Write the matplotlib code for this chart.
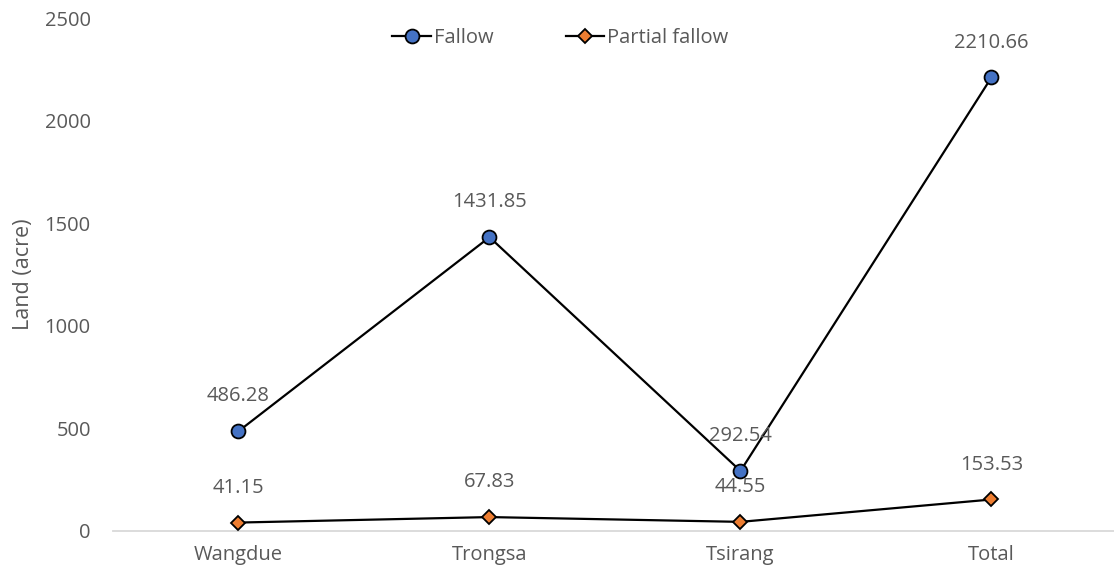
import matplotlib.pyplot as plt

districts = ["Wangdue", "Trongsa", "Tsirang", "Total"]
fallow = [486.28, 1431.85, 292.54, 2210.66]
partial_fallow = [41.15, 67.83, 44.55, 153.53]

plt.rcParams['font.family'] = ['Open Sans', 'DejaVu Sans']
grey = '#595959'
fs = 14.5

fig = plt.figure(figsize=(11.14, 5.76), dpi=100)
ax = fig.add_axes([113 / 1114, 45 / 576, 1004 / 1114, 513 / 576])

x = range(len(districts))
ax.plot(x, fallow, color='black', lw=1.6, marker='o', markersize=10,
        markerfacecolor='#4472C4', markeredgecolor='black', markeredgewidth=1.3,
        label='Fallow', zorder=3)
ax.plot(x, partial_fallow, color='black', lw=1.6, marker='D', markersize=7.5,
        markerfacecolor='#ED7D31', markeredgecolor='black', markeredgewidth=1.3,
        label='Partial fallow', zorder=3)

for xi, v in zip(x, fallow):
    ax.annotate(f"{v:.2f}", (xi, v), xytext=(0, 25), textcoords='offset points',
                ha='center', va='center', fontsize=fs, color=grey)
for xi, v in zip(x, partial_fallow):
    ax.annotate(f"{v:.2f}", (xi, v), xytext=(0, 25), textcoords='offset points',
                ha='center', va='center', fontsize=fs, color=grey)

ax.set_xlim(-0.5, 3.5)
ax.set_ylim(0, 2500)
ax.set_yticks(range(0, 2501, 500))
ax.set_xticks(list(x))
ax.set_xticklabels(districts)
ax.tick_params(axis='both', length=0, labelsize=fs, labelcolor=grey)
ax.tick_params(axis='x', pad=10)
ax.tick_params(axis='y', pad=16)
ax.set_ylabel("Land (acre)", fontsize=15.5, color=grey, labelpad=8)

for side in ['top', 'right', 'left']:
    ax.spines[side].set_visible(False)
ax.spines['bottom'].set_color('#D9D9D9')
ax.spines['bottom'].set_linewidth(1.3)

fig.legend(loc='center', bbox_to_anchor=(0.503, 1 - 38 / 576), ncol=2,
           frameon=False, fontsize=fs, labelcolor=grey, handlelength=1.9,
           columnspacing=3.6, handletextpad=0.15)

fig.savefig("out.png", dpi=100)
